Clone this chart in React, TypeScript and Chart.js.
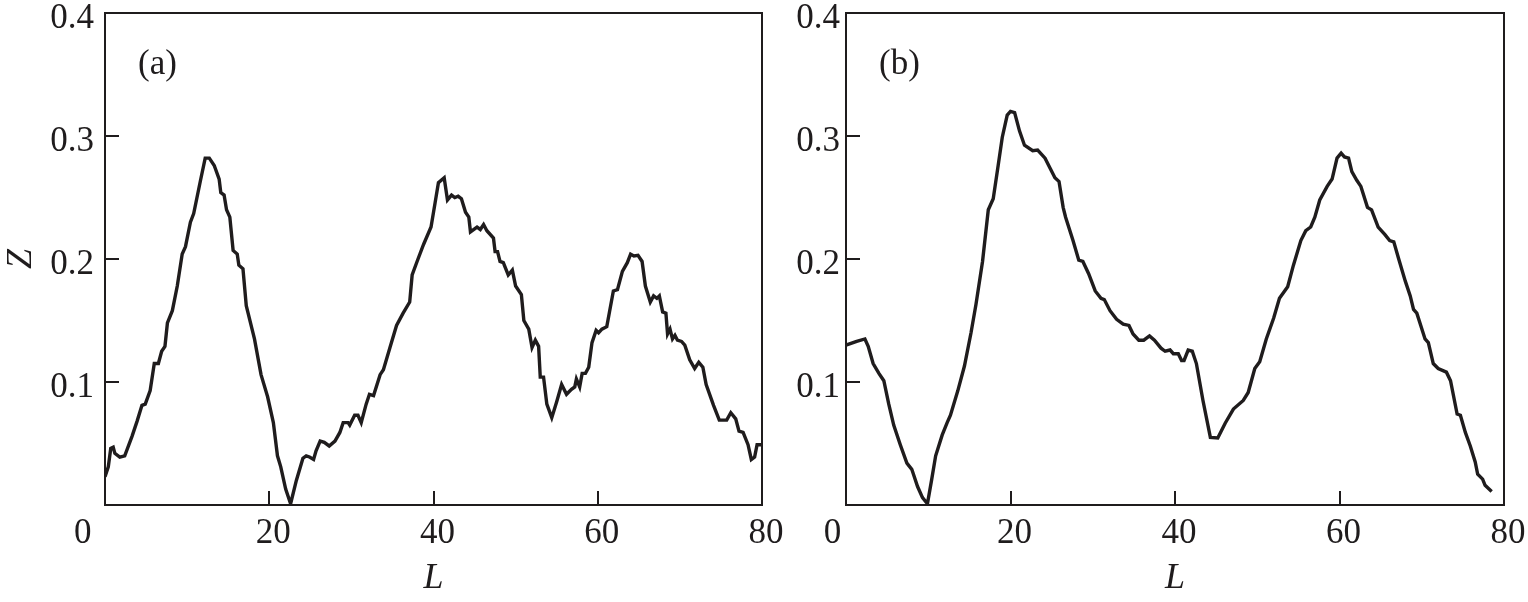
import React, { useEffect, useRef } from 'react';
import { Chart, registerables } from 'chart.js';

Chart.register(...registerables);

// ---------- data ----------
const aL = [0, 0.4, 0.7, 1.0, 1.2, 1.8, 2.4, 3.3, 3.9, 4.5, 4.9, 5.5, 6.0, 6.5, 6.9, 7.3, 7.6, 8.2, 8.8, 9.4, 9.8, 10.4, 10.8, 11.6, 12.2, 12.7, 13.3, 13.9, 14.1, 14.5, 14.8, 15.2, 15.6, 16.1, 16.3, 16.8, 17.2, 18.2, 19.0, 19.8, 20.5, 21.0, 21.4, 22.0, 22.6, 23.3, 24.1, 24.5, 24.9, 25.4, 25.7, 26.2, 26.7, 27.3, 28.0, 28.6, 29.0, 29.6, 29.8, 30.4, 30.8, 31.2, 31.8, 32.2, 32.7, 33.5, 33.9, 34.7, 35.5, 36.3, 37.1, 37.4, 38.0, 38.8, 39.7, 40.2, 40.6, 41.3, 41.7, 42.2, 42.6, 43.0, 43.4, 43.9, 44.3, 44.5, 45.3, 45.7, 46.1, 46.5, 47.3, 47.5, 47.8, 48.1, 48.5, 49.1, 49.6, 50.0, 50.7, 51.0, 51.6, 52.0, 52.4, 52.8, 53.0, 53.4, 53.8, 54.4, 55.0, 55.6, 56.2, 56.8, 57.2, 57.4, 57.8, 58.1, 58.5, 58.9, 59.3, 59.8, 60.1, 60.5, 61.1, 61.9, 62.4, 63.0, 63.6, 64.0, 64.4, 64.9, 65.4, 65.8, 66.4, 66.8, 67.2, 67.5, 67.9, 68.3, 68.5, 68.8, 69.1, 69.4, 69.7, 70.2, 70.6, 71.2, 71.8, 72.3, 72.8, 73.2, 74.1, 74.8, 75.7, 76.2, 76.8, 77.2, 77.7, 78.3, 78.7, 79.1, 79.4, 80.0];
const aZ = [0.023, 0.031, 0.046, 0.047, 0.042, 0.039, 0.040, 0.056, 0.068, 0.081, 0.082, 0.093, 0.115, 0.115, 0.125, 0.129, 0.148, 0.158, 0.178, 0.204, 0.210, 0.230, 0.237, 0.263, 0.282, 0.282, 0.276, 0.265, 0.254, 0.252, 0.240, 0.234, 0.207, 0.204, 0.195, 0.192, 0.162, 0.135, 0.106, 0.088, 0.067, 0.040, 0.031, 0.013, 0.001, 0.020, 0.038, 0.040, 0.039, 0.037, 0.044, 0.052, 0.051, 0.048, 0.052, 0.059, 0.067, 0.067, 0.065, 0.073, 0.073, 0.067, 0.082, 0.090, 0.089, 0.106, 0.110, 0.128, 0.146, 0.156, 0.165, 0.187, 0.198, 0.212, 0.226, 0.246, 0.262, 0.266, 0.248, 0.252, 0.250, 0.251, 0.249, 0.238, 0.234, 0.222, 0.226, 0.224, 0.228, 0.223, 0.217, 0.206, 0.206, 0.198, 0.197, 0.187, 0.191, 0.178, 0.171, 0.150, 0.143, 0.128, 0.134, 0.129, 0.104, 0.104, 0.082, 0.071, 0.084, 0.098, 0.090, 0.094, 0.096, 0.1025, 0.096, 0.107, 0.107, 0.112, 0.132, 0.142, 0.140, 0.143, 0.145, 0.174, 0.175, 0.190, 0.197, 0.204, 0.2025, 0.203, 0.198, 0.178, 0.165, 0.170, 0.168, 0.170, 0.157, 0.156, 0.139, 0.143, 0.135, 0.138, 0.134, 0.133, 0.130, 0.118, 0.111, 0.116, 0.112, 0.098, 0.081, 0.069, 0.069, 0.075, 0.070, 0.060, 0.059, 0.049, 0.037, 0.039, 0.049, 0.049];

const bL = [0, 1.3, 2.3, 2.7, 3.3, 4.0, 4.6, 5.2, 5.8, 6.6, 7.4, 8.0, 8.7, 9.3, 9.9, 10.4, 10.9, 11.7, 12.3, 12.7, 13.6, 14.4, 15.2, 15.8, 16.6, 17.3, 17.9, 18.5, 19.0, 19.6, 20.0, 20.5, 21.1, 21.7, 22.7, 23.3, 24.2, 24.8, 25.4, 25.9, 26.4, 26.7, 27.6, 28.3, 28.8, 29.5, 30.3, 31.0, 31.4, 32.1, 32.9, 33.7, 34.4, 34.9, 35.6, 36.2, 36.9, 37.5, 38.3, 38.8, 39.4, 39.8, 40.4, 40.8, 41.1, 41.6, 42.1, 42.6, 43.4, 44.3, 45.2, 46.1, 47.1, 48.3, 48.9, 49.7, 50.3, 51.1, 52.0, 52.7, 53.7, 54.4, 55.3, 55.9, 56.5, 57.0, 57.6, 58.5, 59.1, 59.7, 60.2, 60.6, 61.1, 61.5, 62.1, 62.6, 63.4, 63.9, 64.7, 65.5, 66.1, 66.6, 67.2, 68.0, 68.6, 69.0, 69.4, 70.4, 70.8, 71.4, 72.0, 73.0, 73.5, 74.3, 74.7, 75.3, 75.9, 76.5, 76.8, 77.4, 77.7, 78.5];
const bZ = [0.130, 0.133, 0.135, 0.129, 0.115, 0.107, 0.101, 0.082, 0.065, 0.049, 0.034, 0.029, 0.015, 0.006, 0.001, 0.020, 0.040, 0.057, 0.067, 0.073, 0.093, 0.113, 0.140, 0.163, 0.198, 0.240, 0.249, 0.276, 0.299, 0.317, 0.320, 0.319, 0.304, 0.2925, 0.288, 0.2885, 0.282, 0.274, 0.266, 0.263, 0.242, 0.234, 0.215, 0.199, 0.198, 0.188, 0.174, 0.168, 0.167, 0.158, 0.151, 0.147, 0.146, 0.139, 0.134, 0.134, 0.1375, 0.134, 0.1275, 0.125, 0.126, 0.123, 0.123, 0.1175, 0.1175, 0.126, 0.125, 0.115, 0.085, 0.055, 0.0545, 0.0665, 0.078, 0.085, 0.0915, 0.111, 0.1165, 0.135, 0.152, 0.168, 0.1775, 0.195, 0.215, 0.223, 0.226, 0.234, 0.248, 0.259, 0.265, 0.282, 0.286, 0.283, 0.282, 0.271, 0.264, 0.259, 0.242, 0.240, 0.226, 0.220, 0.215, 0.214, 0.200, 0.182, 0.170, 0.159, 0.156, 0.135, 0.132, 0.115, 0.111, 0.108, 0.101, 0.074, 0.073, 0.059, 0.048, 0.035, 0.025, 0.021, 0.016, 0.011];

const xTickValues = [0, 20, 40, 60, 80];
const yTickValues = [0.1, 0.2, 0.3, 0.4];
const panelLabels = ['(a)', '(b)'];
const xTitle = 'L';
const yTitle = 'Z';

// ---------- styles ----------
const INK = '#1f1c1d';
const SERIF = '"Liberation Serif", "Times New Roman", serif';
const TICK_FONT = 35;

type PanelProps = {
  L: number[];
  Z: number[];
  label: string;
  showYTitle: boolean;
  left: number;
  width: number;
  yAxisWidth: number;
  rightPad: number;
  yLabelPad: number;
  zeroPad: string;
};

function Panel(p: PanelProps) {
  const ref = useRef<HTMLCanvasElement | null>(null);
  useEffect(() => {
    if (!ref.current) return;
    const innerX = xTickValues.slice(1, -1);
    const innerY = yTickValues.slice(0, -1);
    const frame = {
      id: 'frame',
      afterDatasetsDraw(chart: any) {
        const { ctx, chartArea } = chart;
        const { left, top, right, bottom } = chartArea;
        const xs = chart.scales.x;
        const ys = chart.scales.y;
        ctx.save();
        ctx.strokeStyle = INK;
        ctx.lineWidth = 2;
        ctx.strokeRect(left, top, right - left, bottom - top);
        ctx.beginPath();
        for (const v of innerX) {
          const px = Math.round(xs.getPixelForValue(v));
          ctx.moveTo(px, bottom);
          ctx.lineTo(px, bottom - 14);
        }
        for (const v of innerY) {
          const py = Math.round(ys.getPixelForValue(v));
          ctx.moveTo(left, py);
          ctx.lineTo(left + 14, py);
        }
        ctx.stroke();
        ctx.fillStyle = INK;
        ctx.font = `${TICK_FONT}px ${SERIF}`;
        ctx.textAlign = 'left';
        ctx.textBaseline = 'middle';
        ctx.fillText(p.label, left + 33, top + 52);
        ctx.restore();
      },
    };
    const chart = new Chart(ref.current, {
      type: 'line',
      data: {
        datasets: [
          {
            data: p.L.map((l, i) => ({ x: l, y: p.Z[i] })),
            borderColor: INK,
            borderWidth: 3.4,
            pointRadius: 0,
            tension: 0,
            fill: false,
          },
        ],
      },
      options: {
        animation: false,
        responsive: false,
        maintainAspectRatio: false,
        layout: { padding: { top: 13, right: p.rightPad, bottom: 0, left: 0 } },
        plugins: { legend: { display: false }, tooltip: { enabled: false } },
        scales: {
          x: {
            type: 'linear',
            min: 0,
            max: 80,
            afterFit: (s: any) => {
              s.height = 97;
              s.paddingLeft = 0;
              s.paddingRight = 0;
            },
            afterBuildTicks: (s: any) => {
              s.ticks = xTickValues.map((v) => ({ value: v }));
            },
            grid: { display: false, drawTicks: false },
            border: { display: false },
            ticks: {
              color: INK,
              font: { family: SERIF, size: TICK_FONT },
              padding: 8,
              labelOffset: 4,
              maxRotation: 0,
              autoSkip: false,
              callback: (v: any) => (v === 0 ? '0' + p.zeroPad : String(v)),
            },
            title: {
              display: true,
              text: xTitle,
              color: INK,
              font: { family: SERIF, size: 36, style: 'italic' },
              padding: { top: 0, bottom: 2 },
            },
          },
          y: {
            type: 'linear',
            min: 0,
            max: 0.4,
            afterFit: (s: any) => {
              s.width = p.yAxisWidth;
              s.paddingTop = 0;
              s.paddingBottom = 0;
            },
            afterBuildTicks: (s: any) => {
              s.ticks = yTickValues.map((v) => ({ value: v }));
            },
            grid: { display: false, drawTicks: false },
            border: { display: false },
            ticks: {
              color: INK,
              font: { family: SERIF, size: TICK_FONT },
              padding: p.yLabelPad,
              labelOffset: 6,
              autoSkip: false,
              callback: (v: any) => Number(v).toFixed(1),
            },
            title: {
              display: p.showYTitle,
              text: yTitle,
              color: INK,
              font: { family: SERIF, size: 36, style: 'italic' },
              padding: { top: 0, bottom: 0 },
            },
          },
        },
      },
      plugins: [frame],
    });
    return () => chart.destroy();
  }, []);
  return (
    <canvas
      ref={ref}
      width={p.width}
      height={602}
      style={{ position: 'absolute', left: p.left, top: 0, width: p.width, height: 602 }}
    />
  );
}

export default function App() {
  return (
    <div style={{ position: 'fixed', left: 0, top: 0, width: 1528, height: 602, background: '#fff' }}>
      <Panel L={aL} Z={aZ} label={panelLabels[0]} showYTitle={true} left={0} width={800} yAxisWidth={105} rightPad={38} yLabelPad={11} zeroPad={'\u2002\u2002\u2002'} />
      <Panel L={bL} Z={bZ} label={panelLabels[1]} showYTitle={false} left={776} width={752} yAxisWidth={70} rightPad={24} yLabelPad={6} zeroPad={'\u2002\u2002'} />
    </div>
  );
}
